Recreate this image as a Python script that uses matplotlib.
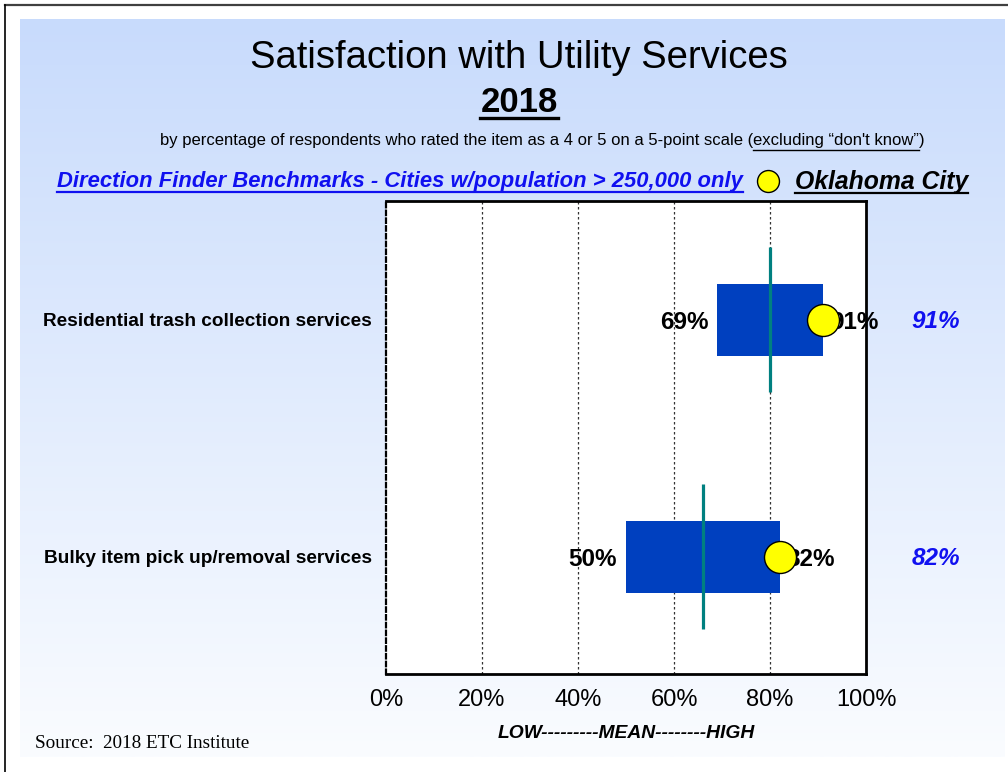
import numpy as np
import matplotlib
matplotlib.use("Agg")
import matplotlib.pyplot as plt
from matplotlib.lines import Line2D

# ---- data ----
categories = ["Residential trash collection services",
              "Bulky item pick up/removal services"]
low_values = [69, 50]
high_values = [91, 82]
mean_values = [80, 66]
city_values = [91, 82]
tick_values = [0, 20, 40, 60, 80, 100]
tick_labels = ["0%", "20%", "40%", "60%", "80%", "100%"]

SANS = "Liberation Sans"
SERIF = "Liberation Serif"

W, H = 1008, 772
fig = plt.figure(figsize=(W / 100, H / 100), dpi=100)
fig.patch.set_facecolor("white")
px2pt = 72 / 100


def fx(px):
    return px / W


def fy(py):
    return 1 - py / H


# gradient panel behind everything
bg = fig.add_axes([fx(20), fy(757), fx(1005) - fx(20), fy(19) - fy(757)], zorder=0)
top_col = np.array([0xC8, 0xDB, 0xFC]) / 255
bot_col = np.array([0xFA, 0xFC, 0xFF]) / 255
t = np.linspace(0, 1, 256)[:, None]
grad = top_col[None, :] * (1 - t) + bot_col[None, :] * t
bg.imshow(grad[:, None, :], aspect="auto", extent=[0, 1, 0, 1], origin="upper")
bg.set_axis_off()

# page frame lines (top and left)
fig.add_artist(Line2D([fx(5), 1], [fy(4.5), fy(4.5)], color="#404040", lw=1.6))
fig.add_artist(Line2D([fx(5), fx(5)], [0, fy(4.5)], color="black", lw=1.2))

# main plot area
ax = fig.add_axes([fx(386), fy(674), fx(866) - fx(386), fy(201) - fy(674)], zorder=2)
ax.set_facecolor("white")
ax.set_xlim(0, 100)
ax.set_ylim(1.494, -0.502)

y = np.arange(len(categories))
for v in tick_values[1:-1]:
    ax.axvline(v, color="#333333", lw=0.9, ls=(0, (2, 2)), zorder=1)

widths = [h - l for l, h in zip(low_values, high_values)]
ax.barh(y, widths, left=low_values, height=0.304, color="#0040BF", zorder=2)
ax.vlines(mean_values, y - 0.306, y + 0.306, color="#008080", lw=2.3, zorder=3)
ax.scatter(city_values, y, s=530, c="#FFFF00", edgecolors="black", linewidths=1.0, zorder=5)

# value labels at both ends of each bar
for yi, lo, hi in zip(y, low_values, high_values):
    ax.annotate(f"{lo}%", xy=(lo, yi), xytext=(-9 * px2pt, -2.5 * px2pt),
                textcoords="offset points", ha="right", va="center", fontsize=17.5,
                fontweight="bold", family=SANS, color="black", zorder=4)
    ax.annotate(f"{hi}%", xy=(hi, yi), xytext=(7 * px2pt, -2.5 * px2pt),
                textcoords="offset points", ha="left", va="center", fontsize=17.5,
                fontweight="bold", family=SANS, color="black", zorder=4)

for spine in ["top", "right", "bottom"]:
    ax.spines[spine].set_linewidth(2)
    ax.spines[spine].set_color("black")
ax.spines["left"].set_linewidth(1.6)
ax.spines["left"].set_linestyle((0, (2, 1.5)))
ax.spines["left"].set_color("black")

ax.set_xticks(tick_values)
ax.set_xticklabels(tick_labels, fontsize=17, family=SANS)
ax.tick_params(axis="x", length=0, pad=11)
ax.set_yticks([])

# category labels left of the plot, city values at right (offsets in points)
for yi, cat, cv in zip(y, categories, city_values):
    ax.annotate(cat, xy=(0, yi), xycoords=("axes fraction", "data"),
                xytext=(-14 * px2pt, -2 * px2pt), textcoords="offset points",
                ha="right", va="center", fontsize=13.7, fontweight="bold", family=SANS)
    ax.annotate(f"{cv}%", xy=(1, yi), xycoords=("axes fraction", "data"),
                xytext=(70 * px2pt, -1.5 * px2pt), textcoords="offset points",
                ha="center", va="center", fontsize=17.5, fontweight="bold",
                style="italic", color="#1010F0", family=SANS)

# titles
fig.text(fx(519), fy(58), "Satisfaction with Utility Services", ha="center", va="center",
         fontsize=27.5, family=SANS)
t2018 = fig.text(fx(519), fy(103), "2018", ha="center", va="center", fontsize=25,
                 fontweight="bold", family=SANS)

fig.canvas.draw()
renderer = fig.canvas.get_renderer()


def underline(txt, ypix, color="black", lw=1.0):
    bb = txt.get_window_extent(renderer)
    fig.add_artist(Line2D([bb.x0 / W, bb.x1 / W], [fy(ypix), fy(ypix)], color=color, lw=lw))


underline(t2018, 118, lw=2.4)

sub1 = "by percentage of respondents who rated the item as a 4 or 5 on a 5-point scale ("
sub2 = "excluding \u201cdon't know\u201d"
sub_fs = 11.95
s1 = fig.text(fx(160), fy(141), sub1, ha="left", va="center", fontsize=sub_fs, family=SANS)
bb1 = s1.get_window_extent(renderer)
s2 = fig.text(bb1.x1 / W, fy(141), sub2, ha="left", va="center", fontsize=sub_fs, family=SANS)
bb2 = s2.get_window_extent(renderer)
fig.text(bb2.x1 / W, fy(141), ")", ha="left", va="center", fontsize=sub_fs, family=SANS)
underline(s2, 150, lw=1.0)

# legend row
lg = fig.text(fx(57), fy(181), "Direction Finder Benchmarks - Cities w/population > 250,000 only",
              ha="left", va="center", fontsize=15.8, fontweight="bold", style="italic",
              color="#1010F0", family=SANS)
underline(lg, 192, color="#1010F0", lw=1.6)
leg_ax = fig.add_axes([fx(752), fy(197), fx(32), 32 / H], zorder=3)
leg_ax.set_axis_off()
leg_ax.set_xlim(0, 1)
leg_ax.set_ylim(0, 1)
leg_ax.scatter([0.5], [0.5], s=250, c="#FFFF00", edgecolors="black", linewidths=1.0)
oc = fig.text(fx(795), fy(182), "Oklahoma City", ha="left", va="center", fontsize=17.8,
              fontweight="bold", style="italic", family=SANS)
underline(oc, 193, lw=1.6)

fig.text(fx(626), fy(733), "LOW---------MEAN--------HIGH", ha="center", va="center",
         fontsize=13.9, fontweight="bold", style="italic", family=SANS)
fig.text(fx(35), fy(743), "Source:  2018 ETC Institute", ha="left", va="center",
         fontsize=13.8, family=SERIF)

fig.savefig("out.png", dpi=100)
